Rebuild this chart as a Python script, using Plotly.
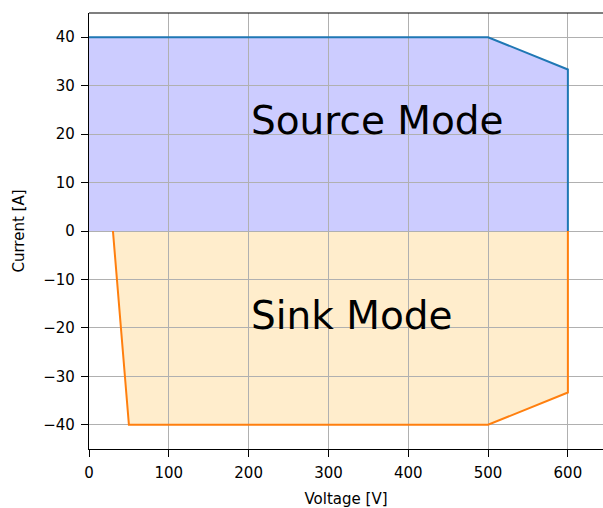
import plotly.graph_objects as go

source_v = [0, 500, 600, 600]
source_i = [40, 40, 33.33, 0]
sink_v = [30, 50, 500, 600, 600]
sink_i = [0, -40, -40, -33.33, 0]
x_ticks = [0, 100, 200, 300, 400, 500, 600]
y_ticks = [-40, -30, -20, -10, 0, 10, 20, 30, 40]
y_tick_text = [("−" + str(abs(v))) if v < 0 else str(v) for v in y_ticks]

FONT = "DejaVu Sans"


def poly_path(xs, ys):
    pts = " L ".join(f"{x},{y}" for x, y in zip(xs, ys))
    return "M " + pts + " Z"


fig = go.Figure()
# fills (below gridlines, like the reference)
fig.add_shape(type="path", xref="x", yref="y", layer="below",
              path=poly_path(source_v + [0], source_i + [0]),
              fillcolor="#ccccff", line=dict(width=0))
fig.add_shape(type="path", xref="x", yref="y", layer="below",
              path=poly_path(sink_v, sink_i),
              fillcolor="#ffedcc", line=dict(width=0))
# lines
fig.add_trace(go.Scatter(x=source_v, y=source_i, mode="lines",
                         line=dict(color="#1f77b4", width=2), showlegend=False))
fig.add_trace(go.Scatter(x=sink_v, y=sink_i, mode="lines",
                         line=dict(color="#ff7f0e", width=2), showlegend=False))

fig.add_annotation(x=200, y=22.8, text="Source Mode", showarrow=False,
                   xanchor="left", yanchor="middle", font=dict(family=FONT, size=39, color="black"))
fig.add_annotation(x=200, y=-17.4, text="Sink Mode", showarrow=False,
                   xanchor="left", yanchor="middle", font=dict(family=FONT, size=39, color="black"))

fig.add_shape(type="line", xref="paper", yref="paper", x0=0, x1=1, y0=1, y1=1,
              line=dict(color="black", width=1.2))

axis_common = dict(showgrid=True, gridcolor="#b0b0b0", gridwidth=1, zeroline=False,
                   showline=True, linecolor="black", linewidth=1.2,
                   ticks="outside", ticklen=7, tickcolor="black", tickwidth=1.2,
                   ticklabelstandoff=3,
                   tickfont=dict(family=FONT, size=15, color="black"))
fig.update_xaxes(range=[0, 644], tickvals=x_ticks,
                 title=dict(text="Voltage [V]", font=dict(family=FONT, size=15, color="black"), standoff=12),
                 **axis_common)
fig.update_yaxes(range=[-45, 45], tickvals=y_ticks, ticktext=y_tick_text,
                 title=dict(text="Current [A]", font=dict(family=FONT, size=15, color="black"), standoff=14),
                 **axis_common)
fig.update_layout(width=603, height=508, margin=dict(l=89, r=0, t=13, b=59),
                  plot_bgcolor="white", paper_bgcolor="white")
fig.write_html("out.html", config={"displayModeBar": False},
               post_script="document.body.style.margin='0';document.body.style.overflow='hidden';")
